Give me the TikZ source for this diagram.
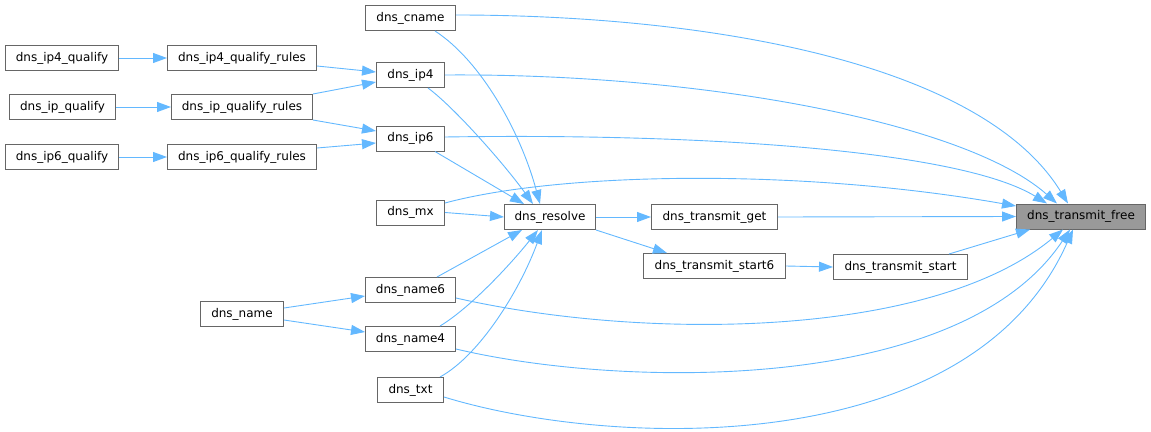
\documentclass[tikz,border=0pt]{standalone}
\usepackage{fontspec}
\setmainfont{DejaVu Sans}
\usetikzlibrary{arrows.meta}
\definecolor{edgeblue}{HTML}{63B8FF}
\definecolor{boxgray}{HTML}{666666}
\definecolor{hlgray}{HTML}{999999}
\tikzset{
  fn/.style={draw=boxgray, line width=1pt, fill=white, minimum height=25pt, inner sep=0pt, font=\fontsize{12}{14}\selectfont, text=black},
  hl/.style={fn, fill=hlgray},
  call/.style={draw=edgeblue, line width=0.9pt, -{Triangle[length=14pt,width=10pt,fill=edgeblue]}}
}
\begin{document}
\begin{tikzpicture}[x=1pt,y=-1pt]
\useasboundingbox (0,0) rectangle (1151,431);
% nodes
\node[fn, minimum width=90pt] (cname) at (410.5,18) {dns\_cname};
\node[fn, minimum width=113pt] (ip4q) at (62,58) {dns\_ip4\_qualify};
\node[fn, minimum width=149pt] (ip4qr) at (242,58) {dns\_ip4\_qualify\_rules};
\node[fn, minimum width=68pt] (ip4) at (410.5,75) {dns\_ip4};
\node[fn, minimum width=106pt] (ipq) at (62.5,107) {dns\_ip\_qualify};
\node[fn, minimum width=141pt] (ipqr) at (242,107) {dns\_ip\_qualify\_rules};
\node[fn, minimum width=68pt] (ip6) at (410.5,138.5) {dns\_ip6};
\node[fn, minimum width=113pt] (ip6q) at (62,157) {dns\_ip6\_qualify};
\node[fn, minimum width=149pt] (ip6qr) at (242,157) {dns\_ip6\_qualify\_rules};
\node[fn, minimum width=68pt] (mx) at (410.5,212.5) {dns\_mx};
\node[fn, minimum width=91pt] (resolve) at (550,217) {dns\_resolve};
\node[fn, minimum width=126pt] (tget) at (714.5,217) {dns\_transmit\_get};
\node[fn, minimum width=142pt] (tstart6) at (714.5,266) {dns\_transmit\_start6};
\node[fn, minimum width=134pt] (tstart) at (900.5,267) {dns\_transmit\_start};
\node[hl, minimum width=129pt] (tfree) at (1081,216.5) {dns\_transmit\_free};
\node[fn, minimum width=90pt] (name6) at (410.5,290) {dns\_name6};
\node[fn, minimum width=83pt] (name) at (242,314) {dns\_name};
\node[fn, minimum width=90pt] (name4) at (410.5,339) {dns\_name4};
\node[fn, minimum width=66pt] (txt) at (410.5,390) {dns\_txt};
% edges
\draw[call] (ip4q.east) -- (ip4qr.west);
\draw[call] ([yshift=-8pt]ip4qr.east) -- ([yshift=3pt]ip4.west);
\draw[call] (ipq.east) -- (ipqr.west);
\draw[call] (ipqr.north east) -- ([yshift=-7pt]ip4.west);
\draw[call] (ipqr.south east) -- ([yshift=7.5pt]ip6.west);
\draw[call] (ip6q.east) -- (ip6qr.west);
\draw[call] ([yshift=9pt]ip6qr.east) -- ([yshift=-4.5pt]ip6.west);
\draw[call] ([xshift=24.5pt]cname.south) .. controls (480,60) and (520,130) .. ([xshift=-10pt]resolve.north);
\draw[call] ([xshift=17.5pt]ip4.south) .. controls (455,108) and (505,165) .. ([xshift=-17pt]resolve.north);
\draw[call] ([xshift=24.5pt]ip6.south) -- ([xshift=-26pt]resolve.north);
\draw[call] (mx.east) -- (resolve.west);
\draw[call] ([yshift=9.5pt]mx.east) .. controls (560,172) and (800,168) .. ([yshift=10.5pt]tfree.west);
\draw[call] ([yshift=3pt]cname.east) .. controls (700,15) and (980,60) .. ([xshift=-13pt]tfree.north);
\draw[call] (ip4.east) .. controls (700,73) and (965,122) .. ([xshift=-24pt]tfree.north);
\draw[call] ([yshift=1.5pt]ip6.east) .. controls (700,133) and (960,150) .. ([xshift=-34pt]tfree.north);
\draw[call] (resolve.east) -- (tget.west);
\draw[call] (resolve.south east) -- ([xshift=-47.5pt]tstart6.north);
\draw[call] (tget.east) -- (tfree.west);
\draw[call] (tstart6.east) -- (tstart.west);
\draw[call] ([xshift=48.5pt]tstart.north) -- ([xshift=-51pt]tfree.south);
\draw[call] ([xshift=26.5pt]name6.north) -- ([xshift=-28pt]resolve.south);
\draw[call] ([xshift=29.5pt]name4.north) .. controls (470,308) and (510,265) .. ([xshift=-12pt]resolve.south);
\draw[call] ([xshift=29.5pt]txt.north) .. controls (480,355) and (520,290) .. ([xshift=-8pt]resolve.south);
\draw[call] ([yshift=6pt]name.east) -- ([yshift=-6pt]name6.west);
\draw[call] ([yshift=-6pt]name.east) -- ([yshift=7pt]name4.west);
\draw[call] ([yshift=-8pt]name6.east) .. controls (640,340) and (930,340) .. ([xshift=-18pt]tfree.south);
\draw[call] ([yshift=-10pt]name4.east) .. controls (620,388) and (960,395) .. ([xshift=-11pt]tfree.south);
\draw[call] ([yshift=-7pt]txt.east) .. controls (610,448) and (970,462) .. ([xshift=-8pt]tfree.south);
\end{tikzpicture}
\end{document}
